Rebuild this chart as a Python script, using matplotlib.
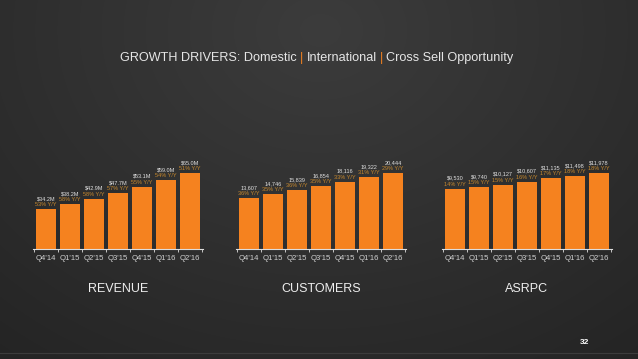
import numpy as np
import matplotlib
matplotlib.use("Agg")
import matplotlib.pyplot as plt

plt.rcParams['font.family'] = ['Liberation Sans', 'DejaVu Sans']

quarters = ["Q4'14", "Q1'15", "Q2'15", "Q3'15", "Q4'15", "Q1'16", "Q2'16"]

revenue = [34.2, 38.2, 42.9, 47.7, 53.1, 59.0, 65.0]
revenue_yoy = [53, 58, 58, 57, 55, 54, 51]

customers = [13607, 14746, 15839, 16854, 18116, 19322, 20444]
customers_yoy = [36, 35, 36, 35, 33, 31, 29]

asrpc = [9530, 9740, 10127, 10607, 11135, 11498, 11978]
asrpc_yoy = [14, 15, 15, 16, 17, 18, 18]

ORANGE = '#f5821f'
YOY_COL = '#c98a2e'
W, H = 638, 359

fig = plt.figure(figsize=(W / 100, H / 100), dpi=100)

# dark gradient background
bg = fig.add_axes([0, 0, 1, 1])
yy, xx = np.mgrid[0:H, 0:W]
d = np.sqrt(((xx - 320) / 450.0) ** 2 + ((yy - 30) / 360.0) ** 2)
shade = np.clip(0.235 - 0.08 * d, 0.14, 0.24)
bg.imshow(np.dstack([shade] * 3), extent=[0, W, H, 0], aspect='auto')
bg.set_xlim(0, W)
bg.set_ylim(H, 0)
bg.axis('off')
bg.plot([0, W], [353, 353], color='#3c3c3c', lw=0.8)

# title: pieces anchored around the two orange separators
ty, tfs = 58, 9.1
bg.text(297, ty, "GROWTH DRIVERS: Domestic", color='#e6e6e6', fontsize=tfs,
        va='center', ha='right')
bg.text(301.5, ty, "|", color=ORANGE, fontsize=tfs, va='center', ha='center')
bg.text(306.5, ty, "International", color='#e6e6e6', fontsize=tfs,
        va='center', ha='left')
bg.text(381.5, ty, "|", color=ORANGE, fontsize=tfs, va='center', ha='center')
bg.text(386.5, ty, "Cross Sell Opportunity", color='#e6e6e6', fontsize=tfs,
        va='center', ha='left')

bg.text(585, 342, "32", color='white', fontsize=6, fontweight='bold',
        ha='center', va='center')

panels = [
    (32.8, revenue, revenue_yoy, lambda v: "$%.1fM" % v, "REVENUE"),
    (235.8, customers, customers_yoy, lambda v: "{:,}".format(v), "CUSTOMERS"),
    (441.8, asrpc, asrpc_yoy, lambda v: "${:,}".format(v), "ASRPC"),
]

base_y = 249
top_y = 130
pitch = 24.0
xl = (-0.55, 6.55)
for left, vals, yoy, fmt, name in panels:
    ax = fig.add_axes([left / W, (H - base_y) / H,
                       (xl[1] - xl[0]) * pitch / W, (base_y - top_y) / H])
    ax.patch.set_alpha(0)
    pos = np.arange(len(quarters))
    ax.bar(pos, vals, width=0.84, color=ORANGE)
    ymax = max(vals) * (base_y - top_y) / 76.0
    ax.set_ylim(0, ymax)
    ax.set_xlim(*xl)
    px = ymax / (base_y - top_y)
    for i, v in enumerate(vals):
        ax.text(i, v + 10.5 * px, fmt(v), color='#e0e0e0', fontsize=4.0,
                ha='center', va='center')
        ax.text(i, v + 4.5 * px, "%d%% Y/Y" % yoy[i], color=YOY_COL,
                fontsize=4.0, ha='center', va='center')
    for s in ['top', 'right', 'left']:
        ax.spines[s].set_visible(False)
    ax.spines['bottom'].set_color('#dddddd')
    ax.spines['bottom'].set_linewidth(0.8)
    ax.set_yticks([])
    ax.set_xticks(pos)
    ax.set_xticklabels(quarters)
    ax.set_xticks(np.arange(len(quarters) + 1) - 0.5, minor=True)
    ax.tick_params(axis='x', which='major', length=0, pad=4, labelsize=5.6,
                   labelcolor='#d0d0d0')
    ax.tick_params(axis='x', which='minor', length=2, width=0.6, color='#dddddd',
                   direction='out')
    cx = left + (xl[1] - xl[0]) * pitch / 2
    bg.text(cx, 289, name, color='#eeeeee', fontsize=9, ha='center', va='center')

fig.savefig('out.png', dpi=100, facecolor='#2a2a2a')
